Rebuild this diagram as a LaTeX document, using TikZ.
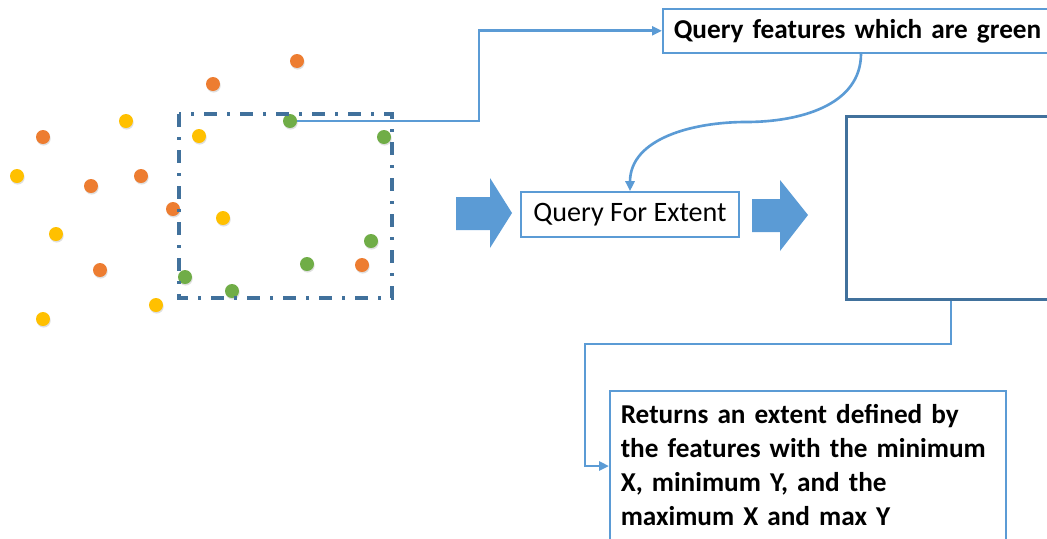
\documentclass[tikz,border=0pt]{standalone}
\usepackage{fontspec}
\setmainfont{Carlito}
\usetikzlibrary{arrows.meta,positioning,calc,shadows}
\definecolor{ptorange}{HTML}{ED7D31}
\definecolor{ptyellow}{HTML}{FFC000}
\definecolor{ptgreen}{HTML}{70AD47}
\definecolor{linkblue}{HTML}{5B9BD5}
\definecolor{frameblue}{HTML}{41719C}

\begin{document}
\begin{tikzpicture}[x=0.02cm, y=-0.02cm,
    dot/.style={circle, inner sep=0pt, minimum size=0.28cm,
                drop shadow={shadow xshift=0.4pt, shadow yshift=-0.9pt, opacity=.25}},
    textbox/.style={rectangle, draw=linkblue, line width=0.9pt, fill=white,
                 font=\fontsize{16}{19.2}\selectfont},
    boldbox/.style={textbox, font=\fontsize{15.5}{19.2}\selectfont\bfseries,
                 align=left, inner xsep=0.22cm},
    conn/.style={-{Triangle[length=2mm,width=1.8mm]}, line width=1.5pt, linkblue},
    blockarr/.style={fill=linkblue}
]
\clip (0,0) rectangle (1047,538);

% features
\foreach \x/\y [count=\i] in {297/61,213/84,43/137,91/186,141/176,173/209,100/270,362/265}
  \node[dot, fill=ptorange] (o\i) at (\x,\y) {};
\foreach \x/\y [count=\i] in {126/121,199/136,17/176,223/218,56/234,156/305,43/319}
  \node[dot, fill=ptyellow] (y\i) at (\x,\y) {};
\foreach \x/\y [count=\i] in {290/121,384/137,371/241,307/264,185/277,232/291}
  \node[dot, fill=ptgreen] (g\i) at (\x,\y) {};

% boxes
\node[boldbox, anchor=north west, minimum height=0.88cm, text width=9cm]
  (qgreen) at (662,8) {Query features which are green};
\node[textbox, minimum width=4.36cm, minimum height=0.9cm]
  (qextent) at (630,214.5) {Query For Extent};
\node[draw=frameblue, line width=1.7pt, anchor=north west, minimum width=5cm,
      minimum height=3.66cm] (extent) at (845,115) {};
\node[boldbox, anchor=north west, text width=7.48cm, inner ysep=0.28cm, text depth=3cm]
  (result) at (609,390) {Returns an extent defined by\\
  the features with the minimum\\
  X, minimum Y, and the\\
  maximum X and max Y};

% connectors
\draw[conn] (g1.east) -- (479,121) |- (qgreen.west);
\draw[conn] ($(qgreen.south west)+(199,0)$) to[out=-90,in=0] (746,122)
  to[out=180,in=90] (qextent.north);
\draw[conn] ($(extent.south west)+(106,0)$) |- (585,344) |- ($(result.north west)+(0,76)$);

% selection window
\draw[frameblue, line width=1.9pt, dash pattern=on 7.4pt off 5.7pt on 1.7pt off 5.7pt]
  (179,114) rectangle (392,298);

% block arrows
\fill[blockarr] (456,197) -- (490,197) -- (490,178) -- (512,213) -- (490,248)
  -- (490,230) -- (456,230) -- cycle;
\fill[blockarr] (752,199) -- (780,199) -- (780,180) -- (808,215) -- (780,251)
  -- (780,232) -- (752,232) -- cycle;
\end{tikzpicture}
\end{document}
